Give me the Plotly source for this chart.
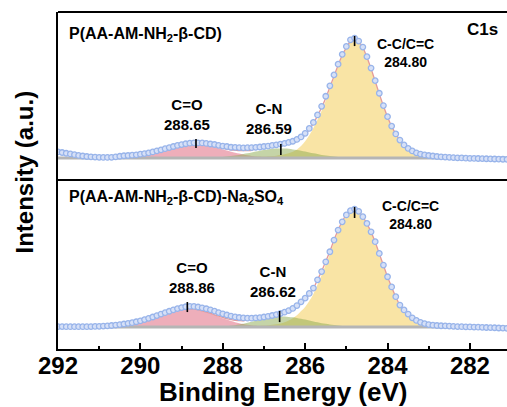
import numpy as np
import plotly.graph_objects as go

# ---------------- data (normalised intensity) ----------------
E_START = 292.0
E_STEP = 0.1

top_data = [0.051, 0.046, 0.040, 0.034, 0.028, 0.022, 0.017, 0.013, 0.010, 0.008,
            0.006, 0.005, 0.005, 0.006, 0.010, 0.015, 0.019, 0.021, 0.024, 0.027,
            0.032, 0.037, 0.043, 0.051, 0.060, 0.068, 0.078, 0.087, 0.096, 0.105,
            0.112, 0.119, 0.124, 0.127, 0.127, 0.126, 0.122, 0.117, 0.113, 0.106,
            0.100, 0.096, 0.090, 0.089, 0.087, 0.085, 0.086, 0.087, 0.089, 0.092,
            0.096, 0.100, 0.105, 0.110, 0.116, 0.122, 0.130, 0.140, 0.155, 0.176,
            0.206, 0.247, 0.297, 0.359, 0.431, 0.515, 0.602, 0.693, 0.782, 0.864,
            0.930, 0.985, 1.000, 0.975, 0.925, 0.845, 0.750, 0.645, 0.540, 0.437,
            0.345, 0.266, 0.201, 0.150, 0.109, 0.080, 0.059, 0.043, 0.033, 0.026,
            0.021, 0.017, 0.013, 0.010, 0.008, 0.006, 0.004, 0.002, 0.001, -0.001,
            -0.002, -0.003, -0.004, -0.005, -0.006, -0.007, -0.008, -0.009, -0.010, -0.011]

bot_data = [0.004, 0.004, 0.003, 0.003, 0.003, 0.003, 0.003, 0.003, 0.004, 0.005,
            0.006, 0.008, 0.010, 0.013, 0.017, 0.021, 0.026, 0.031, 0.037, 0.045,
            0.053, 0.063, 0.074, 0.085, 0.097, 0.110, 0.122, 0.134, 0.146, 0.156,
            0.165, 0.172, 0.176, 0.175, 0.170, 0.163, 0.155, 0.146, 0.135, 0.123,
            0.112, 0.102, 0.093, 0.086, 0.081, 0.077, 0.075, 0.075, 0.077, 0.080,
            0.085, 0.091, 0.098, 0.106, 0.115, 0.126, 0.140, 0.158, 0.182, 0.214,
            0.245, 0.285, 0.330, 0.400, 0.470, 0.553, 0.638, 0.737, 0.822, 0.892,
            0.950, 0.986, 1.000, 0.980, 0.935, 0.878, 0.807, 0.723, 0.624, 0.525,
            0.426, 0.340, 0.257, 0.186, 0.145, 0.110, 0.078, 0.056, 0.040, 0.029,
            0.021, 0.016, 0.013, 0.011, 0.010, 0.008, 0.006, 0.004, 0.003, 0.002,
            0.001, 0.000, -0.001, -0.002, -0.004, -0.005, -0.006, -0.008, -0.009, -0.011]

# fitted components: (first energy, values every 0.1 eV going to lower energy)
top_co_start = 290.8
top_co = [0.001, 0.002, 0.0025, 0.004, 0.005, 0.007, 0.010, 0.013, 0.018, 0.023,
          0.029, 0.037, 0.045, 0.053, 0.063, 0.072, 0.081, 0.090, 0.097, 0.103,
          0.108, 0.110, 0.110, 0.108, 0.103, 0.097, 0.090, 0.081, 0.072, 0.063,
          0.053, 0.045, 0.037, 0.029, 0.023, 0.018, 0.013, 0.010, 0.007, 0.005,
          0.004, 0.0025, 0.0015]
top_cn_start = 288.6
top_cn = [0.001, 0.001, 0.002, 0.003, 0.005, 0.007, 0.009, 0.012, 0.016, 0.021,
          0.026, 0.033, 0.039, 0.046, 0.054, 0.061, 0.067, 0.072, 0.077, 0.079,
          0.080, 0.079, 0.077, 0.072, 0.067, 0.061, 0.054, 0.046, 0.039, 0.033,
          0.026, 0.021, 0.016, 0.012, 0.009, 0.007, 0.005, 0.003, 0.002, 0.001, 0.001]
top_cc_start = 287.2
top_cc = [0.011, 0.012, 0.013, 0.015, 0.017, 0.020, 0.025, 0.031, 0.040, 0.053,
          0.072, 0.100, 0.140, 0.190, 0.250, 0.320, 0.395, 0.480, 0.575, 0.670,
          0.765, 0.850, 0.915, 0.970, 0.990, 0.970, 0.920, 0.840, 0.745, 0.640,
          0.535, 0.435, 0.343, 0.265, 0.201, 0.150, 0.109, 0.080, 0.059, 0.043,
          0.033, 0.026, 0.021, 0.017, 0.015, 0.013, 0.012, 0.011, 0.010]

bot_co_start = 290.8
bot_co = [0.0035, 0.005, 0.007, 0.010, 0.014, 0.019, 0.025, 0.033, 0.041, 0.051,
          0.063, 0.075, 0.088, 0.102, 0.115, 0.127, 0.137, 0.146, 0.152, 0.155,
          0.155, 0.152, 0.146, 0.137, 0.127, 0.115, 0.102, 0.088, 0.075, 0.063,
          0.051, 0.041, 0.033, 0.025, 0.019, 0.014, 0.010, 0.007, 0.005, 0.0035, 0.002]
bot_cn_start = 288.3
bot_cn = [0.0015, 0.002, 0.004, 0.006, 0.008, 0.012, 0.016, 0.022, 0.028, 0.036,
          0.045, 0.054, 0.063, 0.071, 0.079, 0.085, 0.089, 0.090, 0.089, 0.086,
          0.082, 0.077, 0.070, 0.063, 0.055, 0.047, 0.040, 0.033, 0.027, 0.021,
          0.017, 0.013, 0.0095, 0.007, 0.005, 0.0035, 0.0024, 0.0016]
bot_cc_start = 287.4
bot_cc = [0.009, 0.010, 0.011, 0.012, 0.014, 0.016, 0.019, 0.024, 0.030, 0.040,
          0.055, 0.075, 0.100, 0.135, 0.170, 0.220, 0.280, 0.360, 0.440, 0.530,
          0.620, 0.720, 0.810, 0.885, 0.945, 0.983, 0.995, 0.978, 0.933, 0.876,
          0.805, 0.721, 0.622, 0.524, 0.425, 0.339, 0.256, 0.186, 0.145, 0.110,
          0.075, 0.055, 0.040, 0.029, 0.021, 0.016, 0.013, 0.011, 0.010, 0.008, 0.006]

top_sample = "P(AA-AM-NH<sub>2</sub>-β-CD)"
bot_sample = "P(AA-AM-NH<sub>2</sub>-β-CD)-Na<sub>2</sub>SO<sub>4</sub>"
top_peaks = [("C=O", 288.65), ("C-N", 286.59), ("C-C/C=C", 284.80)]
bot_peaks = [("C=O", 288.86), ("C-N", 286.62), ("C-C/C=C", 284.80)]
# vertical extent of the small peak-position markers
top_mark_y = [(0.083, 0.158), (0.025, 0.117), (0.933, 1.017)]
bot_mark_y = [(0.127, 0.212), (0.042, 0.136), (0.924, 1.017)]

x_ticks = [292, 290, 288, 286, 284, 282]

# ---------------- helpers ----------------
def energies(start, n):
    return np.round(start - E_STEP * np.arange(n), 1)

grid = energies(E_START, len(top_data))

def envelope(comps):
    tot = {float(e): 0.0 for e in grid}
    for start, vals in comps:
        for e, v in zip(energies(start, len(vals)), vals):
            tot[float(e)] = tot.get(float(e), 0.0) + v
    return [tot[float(e)] for e in grid]

FONT = "Liberation Sans, Arial, sans-serif"
COL_CC = "rgba(245,212,110,0.62)"
COL_CO = "rgba(226,120,140,0.60)"
COL_CN = "rgba(140,170,80,0.50)"

fig = go.Figure()

def add_panel(yax, data, comps, peaks, mark_y):
    (co_s, co), (cn_s, cn), (cc_s, cc) = comps
    for start, vals, col in [(cc_s, cc, COL_CC), (co_s, co, COL_CO), (cn_s, cn, COL_CN)]:
        fig.add_trace(go.Scatter(x=energies(start, len(vals)), y=vals, yaxis=yax,
                                 mode="lines", line=dict(width=0, shape="spline"),
                                 fill="tozeroy", fillcolor=col, hoverinfo="skip"))
    env = envelope(comps)
    fig.add_trace(go.Scatter(x=grid, y=env, yaxis=yax, mode="lines",
                             line=dict(color="#e59a9a", width=1.3, shape="spline")))
    fig.add_trace(go.Scatter(x=grid, y=np.zeros(len(grid)), yaxis=yax, mode="lines",
                             line=dict(color="#b5b5b5", width=3)))
    fig.add_trace(go.Scatter(x=grid, y=data, yaxis=yax, mode="markers",
                             marker=dict(symbol="circle", size=5.5,
                                         color="rgb(214,224,247)",
                                         line=dict(color="rgb(152,180,234)", width=1.3))))
    for (name, pos), (y0, y1) in zip(peaks, mark_y):
        fig.add_trace(go.Scatter(x=[pos, pos], y=[y0, y1], yaxis=yax, mode="lines",
                                 line=dict(color="black", width=1.6)))

add_panel("y", top_data, [(top_co_start, top_co), (top_cn_start, top_cn), (top_cc_start, top_cc)],
          top_peaks, top_mark_y)
add_panel("y2", bot_data, [(bot_co_start, bot_co), (bot_cn_start, bot_cn), (bot_cc_start, bot_cc)],
          bot_peaks, bot_mark_y)

W, H = 507, 407
L, R, T, B = 58, 0, 12, 58
pw, ph = W - L - R, H - T - B
sep = (H - B - 180) / ph

def px(x):
    return (x - L) / pw

def py(y):
    return (H - B - y) / ph

annots = []
def label(text, x, y, size, xanchor="center"):
    annots.append(dict(text=text, x=px(x), y=py(y), xref="paper", yref="paper",
                       xanchor=xanchor, yanchor="middle", showarrow=False,
                       font=dict(family=FONT, size=size, color="black", weight="bold")))

label(top_sample, 67, 34, 16, "left")
label("C1s", 482, 30, 17)
label(f"{top_peaks[0][0]}<br>{top_peaks[0][1]:.2f}", 187, 114, 15)
label(f"{top_peaks[1][0]}<br>{top_peaks[1][1]:.2f}", 269, 118.5, 15)
label(f"{top_peaks[2][0]}<br>{top_peaks[2][1]:.2f}", 405, 53, 14)
label(bot_sample, 67, 197, 16, "left")
label(f"{bot_peaks[0][0]}<br>{bot_peaks[0][1]:.2f}", 192, 277, 15)
label(f"{bot_peaks[1][0]}<br>{bot_peaks[1][1]:.2f}", 273, 281.5, 15)
label(f"{bot_peaks[2][0]}<br>{bot_peaks[2][1]:.2f}", 410, 215.5, 14)
label("Binding Energy (eV)", 283, 392, 26)
annots.append(dict(text="Intensity (a.u.)", x=px(24), y=py(172.5), xref="paper", yref="paper",
                   xanchor="center", yanchor="middle", textangle=-90, showarrow=False,
                   font=dict(family=FONT, size=24, color="black", weight="bold")))

yax_common = dict(showticklabels=False, ticks="", showgrid=False, zeroline=False,
                  showline=True, linecolor="black", linewidth=2, anchor="x", automargin=False)

fig.update_layout(
    width=W, height=H, margin=dict(l=L, r=R, t=T, b=B, autoexpand=False),
    paper_bgcolor="white", plot_bgcolor="white", showlegend=False,
    font=dict(family=FONT, color="black"),
    xaxis=dict(range=[292, 281.1], tickvals=x_ticks, ticktext=[str(t) for t in x_ticks],
               ticks="inside", ticklen=6, tickwidth=2, tickcolor="black",
               ticklabelstandoff=-6,
               minor=dict(dtick=1, tick0=0, ticks="inside", ticklen=3, tickwidth=2,
                          tickcolor="black", showgrid=False),
               showline=True, linecolor="black", linewidth=2, showgrid=False, zeroline=False,
               tickfont=dict(family=FONT, size=24, color="black", weight="bold"),
               automargin=False, anchor="y2"),
    yaxis=dict(domain=[sep, 1], range=[-0.183, 1.217], **yax_common),
    yaxis2=dict(domain=[0, sep], range=[-0.186, 1.246], **yax_common),
    annotations=annots,
    shapes=[dict(type="line", xref="paper", yref="paper", x0=0, x1=1, y0=1, y1=1,
                 line=dict(color="black", width=2)),
            dict(type="line", xref="paper", yref="paper", x0=0, x1=1, y0=sep, y1=sep,
                 line=dict(color="black", width=2))],
)

# remove the default page margin so the figure sits at the window's top-left corner
fig.write_html("out.html", config={"displayModeBar": False},
               post_script="document.body.style.margin='0';document.body.style.overflow='hidden';")
